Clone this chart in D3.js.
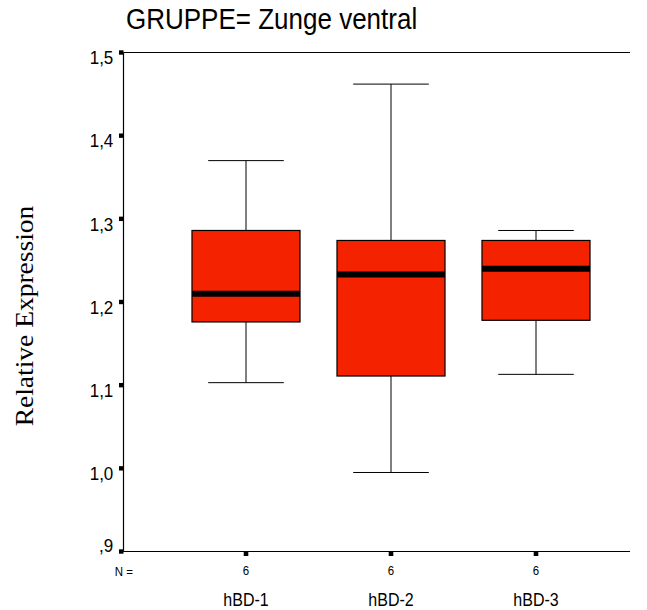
<!DOCTYPE html>
<html>
<head>
<meta charset="utf-8">
<script src="https://cdn.jsdelivr.net/npm/d3@7"></script>
<style>
  html, body { margin: 0; padding: 0; background: #fff; }
  svg { display: block; }
</style>
</head>
<body>
<svg id="chart" width="647" height="610"></svg>
<script>
// Box plot summary per marker
const categories = ["hBD-1", "hBD-2", "hBD-3"];
const whiskerLow = [1.103, 0.995, 1.113];
const q1 = [1.176, 1.111, 1.178];
const median = [1.210, 1.233, 1.240];
const q3 = [1.286, 1.274, 1.274];
const whiskerHigh = [1.370, 1.462, 1.286];
const counts = [6, 6, 6];
const yTicks = [0.9, 1.0, 1.1, 1.2, 1.3, 1.4, 1.5];

const svg = d3.select("#chart");
const SANS = "Liberation Sans, Arial, sans-serif";
const SERIF = "Liberation Serif, Times New Roman, serif";
const STRETCH = 1.1; // text glyphs are drawn slightly taller than wide

const plotLeft = 123.5, plotRight = 630, plotTop = 52.5, plotBottom = 551.5;

const y = d3.scaleLinear().domain([0.9, 1.5]).range([plotBottom, plotTop]);
const x = d3.scalePoint().domain(categories).range([246, 536]);
const boxW = x.step() * 0.745;
const capW = boxW * 0.7;

const fmt = v => d3.format(".1f")(v).replace(".", ",").replace(/^0/, "");

const rows = categories.map((c, i) => ({
  cat: c, lo: whiskerLow[i], q1: q1[i], med: median[i], q3: q3[i], hi: whiskerHigh[i], n: counts[i]
}));

// Places a text with its baseline at (tx, ty), stretched vertically
function label(parent, tx, ty, str, size, anchor, family) {
  return parent.append("text")
    .attr("transform", `translate(${tx},${ty}) scale(1,${STRETCH})`)
    .attr("text-anchor", anchor)
    .attr("font-family", family || SANS)
    .attr("font-size", size)
    .attr("fill", "#000")
    .text(str);
}

// Frame: left axis, top and bottom lines
const frame = svg.append("g").attr("stroke", "#000").attr("stroke-width", 1.2);
frame.append("line").attr("x1", plotLeft).attr("x2", plotLeft).attr("y1", plotTop).attr("y2", plotBottom);
frame.append("line").attr("x1", plotLeft).attr("x2", plotRight).attr("y1", plotTop).attr("y2", plotTop);
frame.append("line").attr("x1", plotLeft).attr("x2", plotRight).attr("y1", plotBottom).attr("y2", plotBottom);

// Y ticks: small squares; labels hang below the tick, the lowest sits above it
const yt = svg.append("g");
yt.selectAll("rect").data(yTicks).join("rect")
  .attr("x", plotLeft - 4.5).attr("y", d => y(d) - 2.2).attr("width", 4.5).attr("height", 4.4)
  .attr("fill", "#000");
yTicks.forEach((d, i) => {
  const base = i === 0 ? y(d) + 0.5 : y(d) + 11.8;
  label(yt, 113.3, base, fmt(d), 17, "end");
});

// X ticks: small squares below the axis, counts and category names
const xt = svg.append("g");
xt.selectAll("rect").data(categories).join("rect")
  .attr("x", d => x(d) - 2.3).attr("y", plotBottom + 0.5).attr("width", 4.6).attr("height", 4)
  .attr("fill", "#000");
rows.forEach(d => {
  label(xt, x(d.cat), 575.3, String(d.n), 11.5, "middle");
  label(xt, x(d.cat), 605.7, d.cat, 16, "middle");
});
label(xt, 133, 575.5, "N =", 11.5, "end");

// Boxes and whiskers
const g = svg.append("g").selectAll("g").data(rows).join("g");
g.append("line").attr("x1", d => x(d.cat)).attr("x2", d => x(d.cat))
  .attr("y1", d => y(d.hi)).attr("y2", d => y(d.q3)).attr("stroke", "#000").attr("stroke-width", 1);
g.append("line").attr("x1", d => x(d.cat)).attr("x2", d => x(d.cat))
  .attr("y1", d => y(d.q1)).attr("y2", d => y(d.lo)).attr("stroke", "#000").attr("stroke-width", 1);
g.append("line").attr("x1", d => x(d.cat) - capW / 2).attr("x2", d => x(d.cat) + capW / 2)
  .attr("y1", d => y(d.hi)).attr("y2", d => y(d.hi)).attr("stroke", "#000").attr("stroke-width", 1);
g.append("line").attr("x1", d => x(d.cat) - capW / 2).attr("x2", d => x(d.cat) + capW / 2)
  .attr("y1", d => y(d.lo)).attr("y2", d => y(d.lo)).attr("stroke", "#000").attr("stroke-width", 1);
g.append("rect")
  .attr("x", d => x(d.cat) - boxW / 2).attr("width", boxW)
  .attr("y", d => y(d.q3)).attr("height", d => y(d.q1) - y(d.q3))
  .attr("fill", "#f52200").attr("stroke", "#000").attr("stroke-width", 1.2);
g.append("line").attr("x1", d => x(d.cat) - boxW / 2).attr("x2", d => x(d.cat) + boxW / 2)
  .attr("y1", d => y(d.med)).attr("y2", d => y(d.med)).attr("stroke", "#000").attr("stroke-width", 6);

// Title
label(svg, 126, 29.3, "GRUPPE= Zunge ventral", 26, "start");

// Y axis title (rotated; stretch runs along the text)
svg.append("text")
  .attr("transform", `translate(33,316) rotate(-90) scale(${STRETCH},1)`)
  .attr("text-anchor", "middle")
  .attr("font-family", SERIF).attr("font-size", 25)
  .text("Relative Expression");
</script>
</body>
</html>
